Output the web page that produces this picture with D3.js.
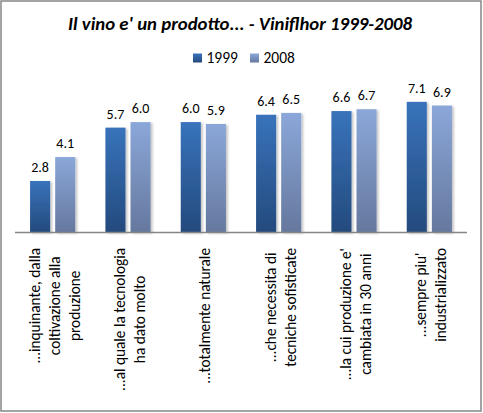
<!DOCTYPE html>
<html lang="it">
<head>
<meta charset="UTF-8">
<title>Il vino e' un prodotto...</title>
<script src="https://d3js.org/d3.v7.min.js"></script>
<style>
  html, body { margin: 0; padding: 0; background: #fff; }
  svg text { font-family: Carlito, Calibri, Lato, "Open Sans", sans-serif; fill: #000; }
</style>
</head>
<body>
<div id="chart"></div>
<script>
// data
const categories = [
  ["...inquinante, dalla", "coltivazione alla", "produzione"],
  ["...al quale la tecnologia", "ha dato molto"],
  ["...totalmente naturale"],
  ["...che necessita di", "tecniche sofisticate"],
  ["...la cui produzione e'", "cambiata in 30 anni"],
  ["...sempre piu'", "industrializzato"]
];
const seriesNames = ["1999", "2008"];
const values1999 = [2.8, 5.7, 6.0, 6.4, 6.6, 7.1];
const values2008 = [4.1, 6.0, 5.9, 6.5, 6.7, 6.9];

const width = 483, height = 413;
const plot = { left: 15, right: 467, top: 85.3, bottom: 232.5 };

const svg = d3.select("#chart").append("svg")
  .attr("width", width)
  .attr("height", height);

const defs = svg.append("defs");
const gradColors = {
  "1999": ["#3873bb", "#244a7d"],
  "2008": ["#8ba7d9", "#65789e"]
};
seriesNames.forEach(s => {
  const g = defs.append("linearGradient")
    .attr("id", "grad" + s)
    .attr("x1", 0).attr("y1", 0).attr("x2", 0).attr("y2", 1);
  g.append("stop").attr("offset", "0%").attr("stop-color", gradColors[s][0]);
  g.append("stop").attr("offset", "100%").attr("stop-color", gradColors[s][1]);
});
defs.append("filter").attr("id", "shadow")
  .attr("x", "-20%").attr("y", "-10%").attr("width", "150%").attr("height", "120%")
  .append("feDropShadow")
  .attr("dx", 2).attr("dy", 1).attr("stdDeviation", 1.3)
  .attr("flood-color", "#000").attr("flood-opacity", 0.22);

// outer frame
svg.append("rect")
  .attr("x", 1).attr("y", 1)
  .attr("width", width - 3).attr("height", height - 3)
  .attr("fill", "#fff")
  .attr("stroke", "#868686")
  .attr("stroke-width", 1.5);

// title
svg.append("text")
  .attr("x", 240).attr("y", 29.5)
  .attr("text-anchor", "middle")
  .attr("font-size", 18.8)
  .attr("font-weight", "bold")
  .attr("font-style", "italic")
  .text("Il vino e' un prodotto... - Viniflhor 1999-2008");

// legend
const legend = svg.append("g");
const legendX = [193, 250];
seriesNames.forEach((s, i) => {
  legend.append("rect")
    .attr("x", legendX[i]).attr("y", 53.5)
    .attr("width", 9).attr("height", 9)
    .attr("fill", "url(#grad" + s + ")");
  legend.append("text")
    .attr("x", legendX[i] + 13.5).attr("y", 62.5)
    .attr("font-size", 15.5)
    .text(s);
});

// scales
const keys = categories.map(c => c.join(" "));
const x0 = d3.scaleBand()
  .domain(keys)
  .range([plot.left, plot.right])
  .paddingInner(0.4)
  .paddingOuter(0.2);
const x1 = d3.scaleBand()
  .domain(seriesNames)
  .range([0, x0.bandwidth()])
  .paddingInner(0.2);
const y = d3.scaleLinear()
  .domain([0, 8])
  .range([plot.bottom, plot.top]);

const rows = keys.map((k, i) => ({
  key: k,
  lines: categories[i],
  vals: [
    { s: "1999", v: values1999[i] },
    { s: "2008", v: values2008[i] }
  ]
}));

const groups = svg.append("g").selectAll("g")
  .data(rows)
  .join("g")
  .attr("transform", d => `translate(${x0(d.key)},0)`);

groups.selectAll("rect")
  .data(d => d.vals)
  .join("rect")
  .attr("x", d => x1(d.s))
  .attr("y", d => y(d.v))
  .attr("width", x1.bandwidth())
  .attr("height", d => y(0) - y(d.v))
  .attr("fill", d => "url(#grad" + d.s + ")")
  .attr("filter", "url(#shadow)");

groups.selectAll("text.val")
  .data(d => d.vals)
  .join("text")
  .attr("class", "val")
  .attr("x", d => x1(d.s) + x1.bandwidth() / 2)
  .attr("y", d => y(d.v) - 9)
  .attr("text-anchor", "middle")
  .attr("font-size", 14)
  .text(d => d.v.toFixed(1));

// category axis
svg.append("line")
  .attr("x1", plot.left).attr("x2", plot.right)
  .attr("y1", plot.bottom).attr("y2", plot.bottom)
  .attr("stroke", "#868686")
  .attr("stroke-width", 1.3);

// rotated multi-line category labels
const labelTop = 248, lineGap = 20;
rows.forEach(r => {
  const cx = x0(r.key) + x0.bandwidth() / 2;
  const g = svg.append("g")
    .attr("transform", `translate(${cx},0) rotate(-90)`);
  const texts = r.lines.map((line, i) => g.append("text")
    .attr("y", (i - (r.lines.length - 1) / 2) * lineGap + 1.5)
    .attr("dy", "0.35em")
    .attr("text-anchor", "middle")
    .attr("font-size", 15.3)
    .text(line));
  const maxW = d3.max(texts, t => t.node().getComputedTextLength());
  texts.forEach(t => t.attr("x", -(labelTop + maxW / 2)));
});
</script>
</body>
</html>
